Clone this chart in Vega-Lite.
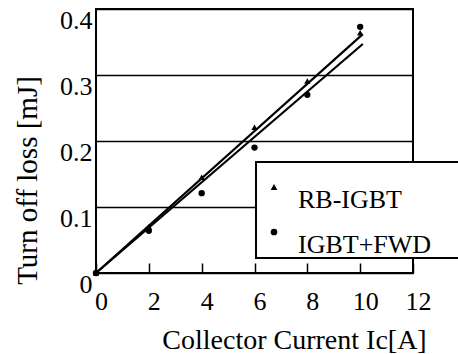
{
  "$schema": "https://vega.github.io/schema/vega-lite/v6.json",
  "width": 317,
  "height": 264,
  "autosize": {"type": "none"},
  "padding": {"left": 96, "top": 9, "right": 45, "bottom": 81},
  "background": "white",
  "config": {
    "view": {"stroke": "black", "strokeWidth": 2},
    "font": "Liberation Serif",
    "legend": {"strokeWidth": 2}
  },
  "datasets": {
    "measured": [
      {"device": "RB-IGBT", "ic": 0, "loss": 0.0},
      {"device": "RB-IGBT", "ic": 2, "loss": 0.070},
      {"device": "RB-IGBT", "ic": 4, "loss": 0.145},
      {"device": "RB-IGBT", "ic": 6, "loss": 0.221},
      {"device": "RB-IGBT", "ic": 8, "loss": 0.291},
      {"device": "RB-IGBT", "ic": 10, "loss": 0.364},
      {"device": "IGBT+FWD", "ic": 0, "loss": 0.0},
      {"device": "IGBT+FWD", "ic": 2, "loss": 0.064},
      {"device": "IGBT+FWD", "ic": 4, "loss": 0.121},
      {"device": "IGBT+FWD", "ic": 6, "loss": 0.190},
      {"device": "IGBT+FWD", "ic": 8, "loss": 0.270},
      {"device": "IGBT+FWD", "ic": 10, "loss": 0.373}
    ],
    "fits": [
      {"device": "RB-IGBT", "ic": 0, "loss": 0.0},
      {"device": "RB-IGBT", "ic": 10.1, "loss": 0.362},
      {"device": "IGBT+FWD", "ic": 0, "loss": 0.0},
      {"device": "IGBT+FWD", "ic": 10.1, "loss": 0.347}
    ]
  },
  "layer": [
    {
      "data": {"name": "fits"},
      "mark": {"type": "line", "color": "black", "strokeWidth": 2.2},
      "encoding": {
        "x": {
          "field": "ic",
          "type": "quantitative",
          "scale": {"domain": [0, 12], "nice": false},
          "axis": {
            "title": "Collector Current Ic[A]",
            "values": [0, 2, 4, 6, 8, 10, 12],
            "grid": false,
            "offset": -10,
            "domain": false,
            "tickColor": "black",
            "tickWidth": 1.5,
            "tickSize": 10,
            "labelFont": "Liberation Serif",
            "labelFontSize": 26,
            "labelColor": "black",
            "labelOffset": 5,
            "labelPadding": 15,
            "labelFlush": false,
            "labelOverlap": false,
            "titleFont": "Liberation Serif",
            "titleFontSize": 28,
            "titleFontWeight": "normal",
            "titleColor": "black",
            "titleX": 198,
            "titleY": 77,
            "titleBaseline": "middle",
            "titleAlign": "center"
          }
        },
        "y": {
          "field": "loss",
          "type": "quantitative",
          "scale": {"domain": [0, 0.4], "nice": false},
          "axis": {
            "title": "Turn off loss [mJ]",
            "values": [0, 0.1, 0.2, 0.3, 0.4],
            "format": ".1~f",
            "grid": true,
            "gridColor": "black",
            "gridWidth": 1.5,
            "gridOpacity": 1,
            "domain": false,
            "ticks": false,
            "labelFont": "Liberation Serif",
            "labelFontSize": 26,
            "labelColor": "black",
            "labelPadding": 4,
            "labelOffset": 11,
            "labelFlush": false,
            "labelOverlap": false,
            "titleFont": "Liberation Serif",
            "titleFontSize": 29,
            "titleFontWeight": "normal",
            "titleColor": "black",
            "titleAngle": -90,
            "titleX": -69,
            "titleY": 171,
            "titleBaseline": "middle",
            "titleAlign": "center"
          }
        },
        "detail": {"field": "device", "type": "nominal"}
      }
    },
    {
      "data": {"name": "measured"},
      "mark": {"type": "point", "filled": true, "color": "black", "opacity": 1, "size": 40},
      "encoding": {
        "x": {"field": "ic", "type": "quantitative"},
        "y": {"field": "loss", "type": "quantitative"},
        "shape": {
          "field": "device",
          "type": "nominal",
          "scale": {"domain": ["RB-IGBT", "IGBT+FWD"], "range": ["triangle-up", "circle"]},
          "legend": {
            "title": "\u00a0\u200b",
            "titleFont": "Liberation Serif",
            "titleFontSize": 6,
            "titlePadding": 6,
            "orient": "none",
            "legendX": 160,
            "legendY": 153,
            "direction": "vertical",
            "fillColor": "white",
            "strokeColor": "black",
            "padding": 0,
            "labelFont": "Liberation Serif",
            "labelFontSize": 26,
            "labelColor": "black",
            "labelOffset": 11,
            "labelBaseline": "top",
            "labelLimit": 400,
            "labelExpr": "datum.label + '\u00a0\u00a0\u00a0\u00a0\u00a0\u00a0\u00a0\u00a0\u00a0\u00a0\u200b'",
            "rowPadding": 6,
            "symbolOffset": 5,
            "symbolSize": 45,
            "symbolFillColor": "black",
            "symbolStrokeColor": "black",
            "zindex": 1
          }
        }
      }
    }
  ]
}
